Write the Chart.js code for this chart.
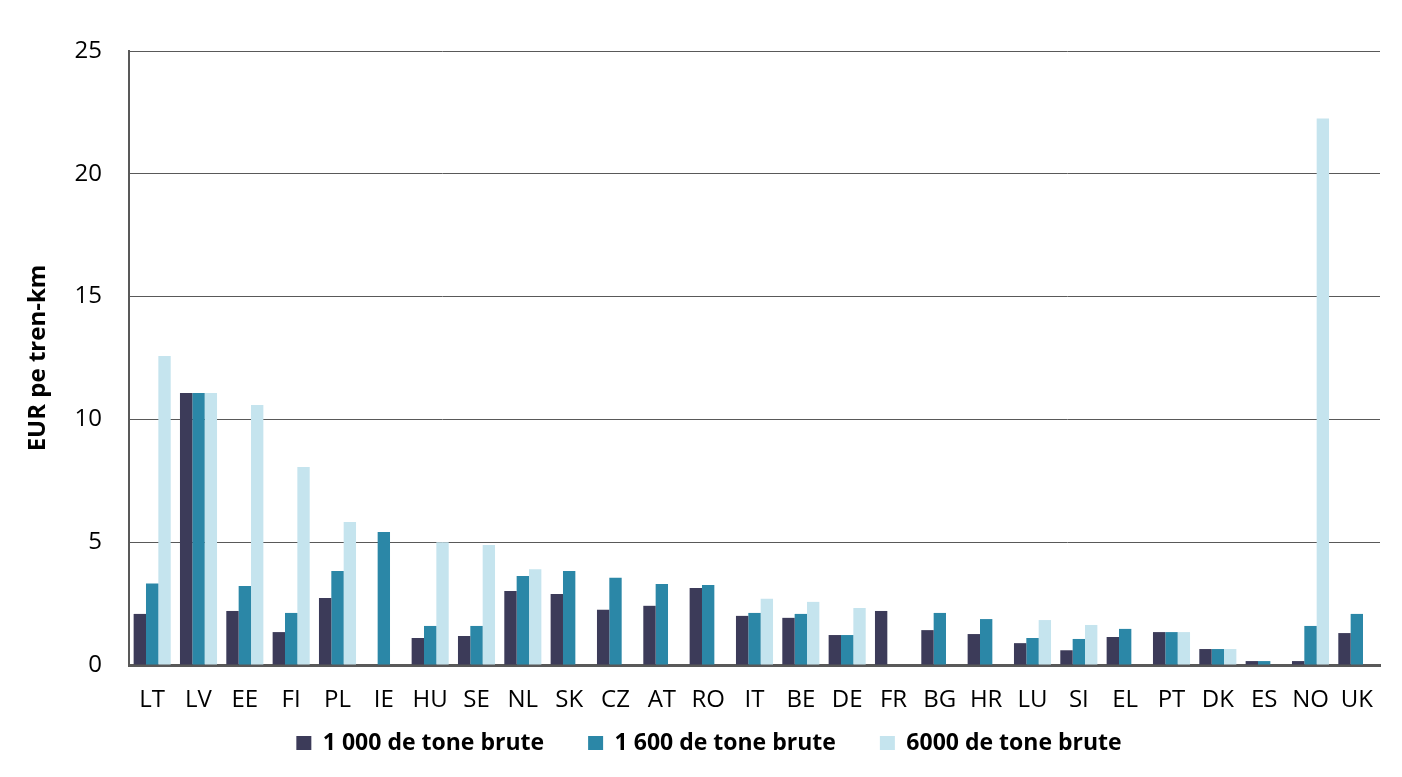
<!DOCTYPE html>
<html>
<head>
<meta charset="utf-8">
<script src="https://cdn.jsdelivr.net/npm/chart.js@4/dist/chart.umd.min.js"></script>
<style>
  html, body { margin: 0; padding: 0; background: #ffffff; }
  #wrap { width: 1402px; height: 777px; }
</style>
</head>
<body>
<div id="wrap"><canvas id="costChart" width="1402" height="777"></canvas></div>
<script>
// Country codes along the x axis
const countries = ['LT', 'LV', 'EE', 'FI', 'PL', 'IE', 'HU', 'SE', 'NL', 'SK', 'CZ', 'AT', 'RO',
    'IT', 'BE', 'DE', 'FR', 'BG', 'HR', 'LU', 'SI', 'EL', 'PT', 'DK', 'ES', 'NO', 'UK'];

// EUR per train-km (null = no bar)
const tonnes1000 = [2.08, 11.07, 2.2, 1.34, 2.73, null, 1.1, 1.18, 3.01, 2.89, 2.25, 2.41, 3.14,
    2.0, 1.92, 1.22, 2.2, 1.42, 1.26, 0.89, 0.6, 1.14, 1.34, 0.65, 0.16, 0.16, 1.3];
const tonnes1600 = [3.32, 11.07, 3.22, 2.12, 3.83, 5.42, 1.59, 1.59, 3.62, 3.83, 3.55, 3.3, 3.26,
    2.12, 2.08, 1.22, null, 2.12, 1.87, 1.1, 1.06, 1.47, 1.34, 0.65, 0.16, 1.59, 2.08];
const tonnes6000 = [12.58, 11.07, 10.59, 8.06, 5.82, null, 5.0, 4.89, 3.9, null, null, null, null,
    2.7, 2.57, 2.32, null, null, null, 1.83, 1.63, null, 1.34, 0.65, null, 22.25, null];

const seriesNames = ['1 000 de tone brute', '1 600 de tone brute', '6000 de tone brute'];
const yTicks = [0, 5, 10, 15, 20, 25];

const fontFamily = '"Open Sans", Lato, sans-serif';
const axisGrey = '#595959';

// Keep the legend box short and pull it up closer to the axis labels
const legendPlacement = {
    id: 'legendPlacement',
    beforeLayout(chart) {
        const legend = chart.legend;
        if (legend && !legend._fitPatched) {
            const origFit = legend.fit.bind(legend);
            legend.fit = function () { origFit(); this.height = 62; };
            legend._fitPatched = true;
        }
    },
    afterLayout(chart) {
        chart.legend.top -= 27;
        chart.legend.bottom -= 27;
    }
};

let ctx = document.getElementById('costChart').getContext('2d');

let costChart = new Chart(ctx, {
    type: 'bar',
    data: {
        labels: countries,
        datasets: [
            { label: seriesNames[0], data: tonnes1000, backgroundColor: '#3c3b59' },
            { label: seriesNames[1], data: tonnes1600, backgroundColor: '#2b87a7' },
            { label: seriesNames[2], data: tonnes6000, backgroundColor: '#c5e4ee' }
        ]
    },
    plugins: [legendPlacement],
    options: {
        responsive: false,
        animation: false,
        layout: { padding: { left: 38, right: 22, top: 51, bottom: 0 } },
        datasets: {
            bar: { categoryPercentage: 0.8, barPercentage: 1.0 }
        },
        plugins: {
            tooltip: { enabled: false },
            legend: {
                position: 'bottom',
                labels: {
                    color: '#000000',
                    font: { family: fontFamily, size: 23, weight: 'bold' },
                    boxWidth: 15,
                    boxHeight: 15,
                    padding: 44
                }
            }
        },
        scales: {
            x: {
                grid: { display: false, drawTicks: false },
                border: { color: axisGrey, width: 3 },
                ticks: {
                    color: '#000000',
                    font: { family: fontFamily, size: 24 },
                    padding: 21,
                    maxRotation: 0,
                    autoSkip: false
                },
                afterFit: axis => { axis.height = 50; }
            },
            y: {
                min: 0,
                max: 25,
                afterBuildTicks: axis => { axis.ticks = yTicks.map(v => ({ value: v })); },
                grid: { color: axisGrey, lineWidth: 1, drawTicks: false },
                border: { color: axisGrey, width: 2 },
                ticks: {
                    color: '#000000',
                    font: { family: fontFamily, size: 24 },
                    padding: 27
                },
                title: {
                    display: true,
                    text: 'EUR pe tren-km',
                    color: '#000000',
                    font: { family: fontFamily, size: 24, weight: 'bold' },
                    padding: { top: -14, bottom: 0 }
                },
                afterFit: axis => { axis.width = 91; }
            }
        }
    }
});
</script>
</body>
</html>
